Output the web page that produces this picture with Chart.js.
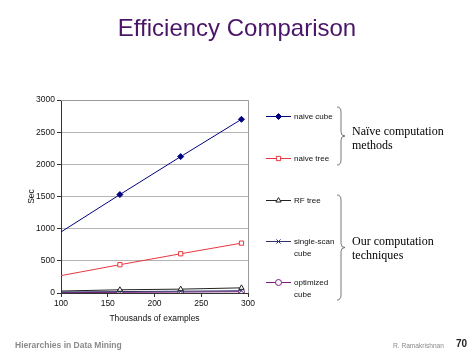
<!DOCTYPE html>
<html>
<head>
<meta charset="utf-8">
<script src="https://cdn.jsdelivr.net/npm/chart.js@4/dist/chart.umd.min.js"></script>
<style>
  html, body { margin: 0; padding: 0; background: #fff; }
  #wrap { position: relative; width: 474px; height: 355px; overflow: hidden; font-family: "Liberation Sans", Arial, sans-serif; }
  #title { position: absolute; left: 0; width: 474px; top: 14px; text-align: center; font-size: 24px; color: #4a1568; }
  #chart { position: absolute; left: 0; top: 0; }
  .foot { position: absolute; top: 340px; font-size: 8.5px; color: #8a8a8a; font-weight: bold; }
</style>
</head>
<body>
<div id="wrap">
  <canvas id="chart" width="474" height="355"></canvas>
  <div id="title">Efficiency Comparison</div>
  <div class="foot" style="left:15px;">Hierarchies in Data Mining</div>
  <div class="foot" style="left:393px;font-weight:normal;font-size:6.6px;top:342px;">R. Ramakrishnan</div>
  <div class="foot" style="left:456px;color:#222;font-size:10px;top:338px;">70</div>
</div>
<script>
// Thousands of examples (first point sits just left of the axis and is clipped)
const examples = [98, 163, 228, 293];

// Seconds per method
const naiveCube = [930, 1530, 2120, 2700];
const naiveTree = [265, 440, 610, 775];
const rfTree = [30, 50, 60, 80];
const singleScanCube = [15, 22, 28, 35];
const optimizedCube = [5, 10, 15, 20];

const xTicks = [100, 150, 200, 250, 300];
const yTicks = [0, 500, 1000, 1500, 2000, 2500, 3000];

const pts = (vals) => examples.map((x, i) => ({ x: x, y: vals[i] }));
const radii = [0, 3, 3, 3];

const series = [
    { label: 'naive cube', data: naiveCube, color: '#000080', style: 'rectRot', fill: '#000080', legendY: 116, lines: ['naive cube'] },
    { label: 'naive tree', data: naiveTree, color: '#e8383f', style: 'rect', fill: '#ffffff', legendY: 158, lines: ['naive tree'] },
    { label: 'RF tree', data: rfTree, color: '#222222', style: 'triangle', fill: '#ffffff', legendY: 200, lines: ['RF tree'] },
    { label: 'single-scan cube', data: singleScanCube, color: '#33336b', style: 'crossRot', fill: '#33336b', legendY: 241, lines: ['single-scan', 'cube'] },
    { label: 'optimized cube', data: optimizedCube, color: '#7a1a7a', style: 'circle', fill: '#ffffff', legendY: 282, lines: ['optimized', 'cube'] }
];

const tickFont = { size: 8.5, family: '"Liberation Sans", Arial' };

// Plot border, legend and braces
const extras = {
    id: 'extras',
    beforeDatasetsDraw(chart) {
        const { ctx, chartArea: a } = chart;
        ctx.save();
        ctx.strokeStyle = '#9a9a9a';
        ctx.lineWidth = 1;
        ctx.beginPath();
        ctx.moveTo(a.left, a.top + 0.5);
        ctx.lineTo(a.right + 0.5, a.top + 0.5);
        ctx.lineTo(a.right + 0.5, a.bottom);
        ctx.stroke();
        ctx.restore();
    },
    afterDraw(chart) {
        const ctx = chart.ctx;
        ctx.save();
        chart.data.datasets.forEach((ds, i) => {
            const s = series[i];
            const y = s.legendY;
            ctx.strokeStyle = s.color;
            ctx.lineWidth = 1;
            ctx.beginPath();
            ctx.moveTo(266, y + 0.5);
            ctx.lineTo(291, y + 0.5);
            ctx.stroke();
            const opts = { pointStyle: s.style, radius: 3, borderWidth: 1, rotation: 0 };
            ctx.fillStyle = s.fill;
            if (Chart.helpers && Chart.helpers.drawPoint) {
                Chart.helpers.drawPoint(ctx, opts, 278.5, y + 0.5);
            }
            ctx.fillStyle = '#111';
            ctx.font = '8px "Liberation Sans", Arial, sans-serif';
            ctx.textBaseline = 'middle';
            s.lines.forEach((t, k) => ctx.fillText(t, 294, y + 1 + k * 11.5));
        });

        // braces
        const brace = (x, top, bottom) => {
            const mid = (top + bottom) / 2;
            ctx.strokeStyle = '#555';
            ctx.lineWidth = 0.8;
            ctx.beginPath();
            ctx.moveTo(x, top);
            ctx.quadraticCurveTo(x + 4, top, x + 4, top + 5);
            ctx.lineTo(x + 4, mid - 4);
            ctx.quadraticCurveTo(x + 4, mid, x + 8, mid);
            ctx.quadraticCurveTo(x + 4, mid, x + 4, mid + 4);
            ctx.lineTo(x + 4, bottom - 5);
            ctx.quadraticCurveTo(x + 4, bottom, x, bottom);
            ctx.stroke();
        };
        brace(337, 107, 165);
        brace(337, 195, 300);

        ctx.fillStyle = '#000';
        ctx.font = '12px "Liberation Serif", "Times New Roman", serif';
        ctx.textBaseline = 'alphabetic';
        ctx.fillText('Naïve computation', 352, 135);
        ctx.fillText('methods', 352, 149);
        ctx.fillText('Our computation', 352, 245);
        ctx.fillText('techniques', 352, 259);
        ctx.restore();
    }
};

new Chart(document.getElementById('chart'), {
    type: 'scatter',
    data: {
        datasets: series.map(s => ({
            label: s.label,
            data: pts(s.data),
            showLine: true,
            borderColor: s.color,
            backgroundColor: s.fill,
            borderWidth: 1,
            pointStyle: s.style,
            pointRadius: radii,
            pointHoverRadius: radii,
            pointBorderColor: s.color,
            pointBackgroundColor: s.fill,
            pointBorderWidth: 1
        }))
    },
    options: {
        responsive: false,
        animation: false,
        events: [],
        layout: { padding: { left: 27, right: 226, top: 100, bottom: 27 } },
        plugins: { legend: { display: false }, tooltip: { enabled: false } },
        scales: {
            x: {
                type: 'linear',
                min: 100,
                max: 300,
                afterBuildTicks: (s) => { s.ticks = xTicks.map(v => ({ value: v })); },
                afterFit: (s) => { s.height = 35; },
                grid: { drawOnChartArea: false, tickLength: 4, tickColor: '#333' },
                border: { color: '#333' },
                ticks: { color: '#111', font: tickFont, padding: 2, maxRotation: 0, callback: (v) => String(v) },
                title: { display: true, text: 'Thousands of examples', color: '#111', font: tickFont, padding: { top: 0 } }
            },
            y: {
                min: 0,
                max: 3000,
                afterBuildTicks: (s) => { s.ticks = yTicks.map(v => ({ value: v })); },
                afterFit: (s) => { s.width = 34; },
                grid: { color: '#b4b4b4', tickLength: 4, tickColor: '#333' },
                border: { color: '#333' },
                ticks: { color: '#111', font: tickFont, padding: 2, callback: (v) => String(v) },
                title: { display: true, text: 'Sec', color: '#111', font: tickFont, padding: { top: 0, bottom: 0 } }
            }
        }
    },
    plugins: [extras]
});
</script>
</body>
</html>
